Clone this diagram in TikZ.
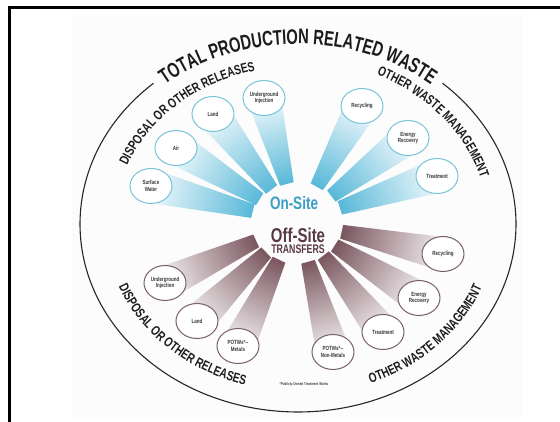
\documentclass[tikz,border=0pt]{standalone}
\usepackage{fontspec}
\usetikzlibrary{shapes.geometric,decorations.text}
\newfontfamily\cfa{Liberation Sans}[FakeStretch=0.75]
\newfontfamily\cfb{Liberation Sans}[FakeStretch=0.70]
\definecolor{oncol}{RGB}{88,184,216}
\definecolor{oncirc}{RGB}{120,195,218}
\definecolor{ontext}{RGB}{58,158,196}
\definecolor{offcol}{RGB}{122,86,95}
\definecolor{offcirc}{RGB}{120,96,100}
\definecolor{offtext}{RGB}{88,58,66}
\definecolor{lbl}{RGB}{28,28,28}
\pgfdeclarelayer{bg}
\pgfsetlayers{bg,main}
\tikzset{
  bub/.style={ellipse, fill=white, line width=1pt, minimum width=42pt, minimum height=35pt,
    inner sep=0pt, align=center, text=black!78, font=\cfa\bfseries\fontsize{6}{6.6}\selectfont},
  onbub/.style={bub, draw=oncirc},
  offbub/.style={bub, draw=offcirc},
  arclabel/.style={decorate, decoration={text along path, text align=center, text color=lbl}},
}
\newcommand\fanwedge[5]{%
  \path (#1.center); \pgfgetlastxy{\fwox}{\fwoy}%
  \path (#2.center); \pgfgetlastxy{\fwcx}{\fwcy}%
  \pgfmathsetmacro\fwdx{\fwcx-\fwox}%
  \pgfmathsetmacro\fwdy{\fwcy-\fwoy}%
  \pgfmathsetmacro\fwang{atan2(\fwdy,\fwdx)}%
  \pgfmathsetmacro\fwdist{veclen(\fwdx,\fwdy)}%
  \pgfmathsetmacro\fwr{#3*#4/sqrt((#4*cos(\fwang))^2+(#3*sin(\fwang))^2)}%
  \begin{scope}[transform canvas={shift={(\fwox,\fwoy)},rotate=\fwang}]
    \shade[left color=#5, right color=#5!8] (\fwr,-7) -- (\fwdist,-17) -- (\fwdist,17) -- (\fwr,7) -- cycle;
  \end{scope}}
\begin{document}
\begin{tikzpicture}[x=1pt,y=1pt]
\useasboundingbox (0,0) rectangle (560,-422);
\begin{pgfonlayer}{bg}
\fill[black!1.2] (72,-14) rectangle (523,-418);
\end{pgfonlayer}
% frame
\draw[line width=3pt] (560,-7.7) -- (9.3,-7.7) -- (9.3,-422);
% outer ellipse
\draw[line width=1.1pt, black!85] ([shift={(131.5:218 and 188)}]298,-224)
  arc[start angle=131.5, end angle=408.5, x radius=218, y radius=188];
% title and group labels
\path[arclabel, decoration={text={|\cfb\bfseries\fontsize{21pt}{21pt}\selectfont|TOTAL PRODUCTION RELATED WASTE}}]
  ([shift={(150:210 and 180)}]298,-224) arc[start angle=150, end angle=30, x radius=210, y radius=180];
\path[arclabel, decoration={text={|\cfa\bfseries\fontsize{13.5pt}{13.5pt}\selectfont|DISPOSAL OR OTHER RELEASES}}]
  ([shift={(175:183.7 and 157.7)}]298,-224) arc[start angle=175, end angle=89, x radius=183.7, y radius=157.7];
\path[arclabel, decoration={text={|\cfa\bfseries\fontsize{13.5pt}{13.5pt}\selectfont|OTHER WASTE MANAGEMENT}}]
  ([shift={(84:190 and 164)}]298,-224) arc[start angle=84, end angle=-5, x radius=190, y radius=164];
\path[arclabel, decoration={text={|\cfa\bfseries\fontsize{13.5pt}{13.5pt}\selectfont|DISPOSAL OR OTHER RELEASES}}]
  ([shift={(185:193.5 and 167.5)}]298,-224) arc[start angle=185, end angle=269, x radius=193.5, y radius=167.5];
\path[arclabel, decoration={text={|\cfa\bfseries\fontsize{13.5pt}{13.5pt}\selectfont|OTHER WASTE MANAGEMENT}}]
  ([shift={(276:198 and 171.5)}]298,-224) arc[start angle=276, end angle=356, x radius=198, y radius=171.5];
% fan origin
\coordinate (fanO) at (297,-222);
% on-site bubbles
\node[onbub] (onSW) at (151,-186) {Surface\\Water};
\node[onbub] (onAir) at (176,-148) {Air};
\node[onbub] (onLand) at (213,-114) {Land};
\node[onbub] (onUI) at (264,-98) {Underground\\Injection};
\node[onbub] (onRec) at (362,-106) {Recycling};
\node[onbub] (onEn) at (408,-138) {Energy\\Recovery};
\node[onbub] (onTr) at (437,-176) {Treatment};
% off-site bubbles
\node[offbub] (offUI) at (165,-283) {Underground\\Injection};
\node[offbub] (offLand) at (197,-321) {Land};
\node[offbub] (offPM) at (238,-346) {POTWs*--\\Metals};
\node[offbub] (offPN) at (333,-352) {POTWs*--\\Non-Metals};
\node[offbub] (offTr) at (383,-332) {Treatment};
\node[offbub] (offEn) at (419,-298) {Energy\\Recovery};
\node[offbub] (offRec) at (443,-254) {Recycling};
% wedges
\begin{pgfonlayer}{bg}
\foreach \b in {onSW,onAir,onLand,onUI,onRec,onEn,onTr}{\fanwedge{fanO}{\b}{46}{39}{oncol}}
\foreach \b in {offUI,offLand,offPM,offPN,offTr,offEn,offRec}{\fanwedge{fanO}{\b}{46}{41}{offcol}}
\end{pgfonlayer}
% centre texts
\node[inner sep=0pt, text=ontext, font=\cfa\bfseries\fontsize{18pt}{18pt}\selectfont] (onsite) at (294,-203.5) {On-Site};
\node[inner sep=0pt, text=offtext, font=\cfa\bfseries\fontsize{20pt}{20pt}\selectfont] (offsite) at (298,-235.5) {Off-Site};
\node[inner sep=0pt, text=offtext, font=\cfb\bfseries\fontsize{12.5pt}{12.5pt}\selectfont] (transfers) at (298,-249.5) {TRANSFERS};
\node[inner sep=0pt, text=black!75, font=\cfa\bfseries\fontsize{4pt}{4pt}\selectfont] (foot) at (304,-384) {*Publicly-Owned Treatment Works};
\end{tikzpicture}
\end{document}
